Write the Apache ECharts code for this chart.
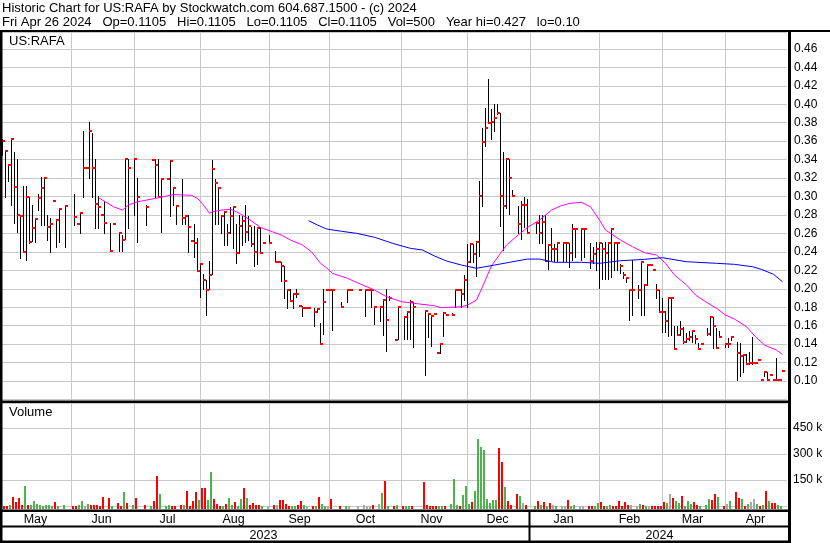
<!DOCTYPE html>
<html>
<head>
<meta charset="utf-8">
<script src="https://cdn.jsdelivr.net/npm/echarts/dist/echarts.min.js"></script>
<style>
html,body{margin:0;padding:0;background:#fff;}
#chart{width:830px;height:543px;}
</style>
</head>
<body>
<div id="chart"></div>
<script>
// ---------------- DATA ----------------
// one slot per weekday; slot index of each traded day
const barSlot = [
 0,1,2,3,4,5,6,7,8,9,
 10,11,12,13,14,15,16,17,18,19,
 21,24,25,26,27,28,29,30,31,32,
 33,34,36,37,39,40,41,42,44,45,
 48,50,51,52,53,55,56,57,58,60,
 61,62,63,64,65,66,67,68,69,70,
 71,72,73,74,75,76,77,78,79,80,
 81,82,83,84,85,86,87,89,91,92,
 93,94,95,96,97,98,99,100,101,102,
 104,105,106,107,108,109,110,113,115,116,
 119,121,122,123,124,126,127,128,129,131,
 132,134,135,136,137,141,142,143,144,145,
 146,147,148,150,151,152,153,154,155,156,
 157,158,159,160,161,162,163,164,165,166,
 167,168,169,170,172,173,174,175,178,179,
 180,181,182,183,184,185,187,188,189,190,
 191,193,194,196,197,198,199,200,201,202,
 203,204,205,206,207,208,209,210,212,213,
 214,215,216,217,218,219,220,221,222,223,
 224,225,226,227,228,229,230,231,232,233,
 235,236,237,238,239,241,242,243,245,246,
 247,248,249,250,251,252,253,254,255,256,
 257,258,259,260
];
const barHigh = [
 .362,.349,.3344,.362,.3485,.341,.28,.311,.311,.30,
 .291,.2756,.3025,.321,.319,.28,.277,.2948,.275,.2865,
 .29,.303,.27,.283,.371,.3305,.3805,.3686,.3405,.301,
 .2796,.295,.2713,.27,.2613,.2587,.3405,.3405,.3405,.32,
 .291,.34,.3405,.3405,.32,.319,.3393,.3094,.29,.3195,
 .28,.28,.252,.2697,.2546,.2265,.2157,.2096,.2301,.3393,
 .3195,.3094,.28,.2834,.2697,.2889,.2889,.2697,.28,.2787,
 .2906,.2787,.2672,.2679,.2672,.2672,.2499,.2582,.2409,.2294,
 .2294,.225,.1995,.1995,.194,.1995,.1818,.1818,.1796,.1796,
 .1796,.1796,.1634,.1998,.199,.199,.199,.1858,.1998,.199,
 .199,.1998,.199,.1998,.18,.18,.1883,.1998,.1919,.145,
 .18,.1703,.175,.1876,.1858,.1764,.1739,.1714,.1732,.1303,
 .1397,.1739,.1721,.1739,.1998,.199,.1998,.2153,.2488,.2488,
 .2488,.2503,.3169,.3746,.396,.4274,.3946,.40,.40,.3903,
 .3481,.3405,.3405,.3074,.2894,.295,.2996,.2978,.2708,.2798,
 .28,.2798,.2481,.2654,.2481,.2503,.2499,.2499,.2499,.27,
 .2647,.2647,.2647,.2499,.2456,.2506,.2506,.2499,.2506,.2492,
 .2654,.2499,.2499,.2266,.2186,.2114,.20,.2312,.2045,.2293,
 .2045,.2257,.2257,.2199,.2054,.1992,.1895,.1757,.1895,.1895,
 .1595,.1595,.1656,.1587,.1522,.154,.154,.1504,.1414,.1403,
 .1577,.1703,.1692,.1573,.154,.1414,.1468,.1479,.1425,.1407,
 .1298,.1298,.1312,.1479,.1193,.1226,.1009,.1099,.1099,.107,
 .1016,.1251,.1016,.1106
];
const barLow = [
 .345,.30,.317,.2905,.271,.261,.2335,.241,.231,.25,
 .2515,.251,.285,.2695,.2695,.253,.24,.2948,.245,.251,
 .245,.2695,.27,.26,.30,.3305,.32,.30,.266,.266,
 .2796,.2605,.2407,.27,.2407,.2407,.2544,.266,.28,.2505,
 .2695,.34,.30,.30,.2613,.319,.2787,.2903,.2705,.2697,
 .2697,.24,.252,.2348,.2196,.1908,.1995,.1714,.1995,.2157,
 .2697,.2697,.26,.2474,.2474,.26,.2438,.2276,.2391,.2474,
 .251,.2528,.2463,.225,.2265,.2384,.2499,.2499,.2294,.2294,
 .2088,.19,.1796,.1868,.1796,.1908,.1818,.171,.1796,.1796,
 .16,.1753,.14,.1505,.199,.199,.155,.18,.1858,.199,
 .199,.1703,.199,.18,.1613,.1649,.1497,.1324,.1876,.145,
 .1457,.1457,.1457,.1457,.1371,.1067,.148,.1379,.1732,.1303,
 .1306,.1487,.1721,.1721,.18,.199,.18,.1883,.18,.2286,
 .2286,.2135,.236,.29,.355,.3802,.3622,.3705,.3895,.2678,
 .2425,.2876,.2814,.3002,.26,.254,.2672,.2607,.26,.2499,
 .25,.2312,.2211,.2312,.2301,.2301,.2301,.2301,.2232,.2312,
 .2348,.2312,.2348,.2222,.2276,.2204,.2005,.2103,.2103,.2103,
 .2124,.2204,.2204,.2175,.2114,.2078,.1663,.1717,.1902,.1714,
 .1714,.2039,.2257,.2199,.1899,.1747,.153,.153,.1493,.1504,
 .1349,.1497,.1504,.1414,.1421,.145,.1421,.1407,.1349,.1403,
 .1504,.1504,.136,.136,.1475,.1367,.1367,.1443,.1009,.1052,
 .1099,.1186,.1186,.1186,.1193,.1226,.1009,.1052,.1009,.107,
 .1016,.1009,.1016,.1106
];
const barClose = [
 .36,.349,.334,.362,.31,.28,.279,.24,.30,.2505,
 .2656,.2753,.298,.309,.3196,.2667,.27,.2948,.275,.286,
 .29,.2775,.27,.2826,.3305,.3305,.3705,.3305,.2915,.289,
 .2796,.2713,.2407,.27,.26,.2526,.3405,.3305,.3405,.30,
 .289,.34,.3344,.30,.3193,.319,.3386,.3094,.29,.277,
 .2791,.2672,.252,.2499,.2196,.2265,.2099,.1987,.215,.33,
 .3148,.3094,.2787,.2834,.2607,.2787,.2889,.2391,.2679,.2737,
 .2618,.2679,.2488,.2398,.2661,.2391,.2499,.2499,.2294,.2294,
 .225,.2085,.1991,.1868,.194,.1948,.1818,.1796,.1796,.1796,
 .1753,.1778,.14,.1854,.199,.199,.1984,.18,.199,.199,
 .199,.199,.199,.199,.18,.18,.1876,.1667,.1897,.145,
 .18,.1692,.1746,.1858,.18,.1757,.1732,.171,.1732,.1303,
 .1397,.1739,.1721,.1721,.199,.199,.1948,.21,.2286,.2481,
 .2376,.2503,.3007,.3595,.3744,.3802,.3809,.3856,.3903,.3002,
 .29,.3405,.3196,.3002,.27,.2905,.2905,.2607,.2708,.2607,
 .272,.2305,.2474,.2431,.2431,.2499,.2499,.2499,.2391,.2647,
 .2647,.2647,.2647,.2305,.2377,.2427,.2499,.2427,.2391,.2499,
 .2647,.2499,.2499,.2247,.215,.2114,.1987,.1987,.1992,.2289,
 .2039,.2257,.2257,.2199,.1992,.1747,.1747,.1649,.1895,.1895,
 .1349,.150,.1569,.1421,.1461,.1479,.154,.1461,.1349,.1403,
 .1511,.1692,.1595,.136,.1475,.1403,.1403,.1479,.1305,.1269,
 .128,.1186,.1193,.1193,.1193,.1226,.1009,.1099,.1016,.107,
 .1016,.1009,.1016,.1106
];
const volume = [
 800,800,800,5800,52300,25200,48400,3000,116100,5800,
 3900,29000,13500,7700,2000,3000,7700,800,25200,2000,
 5800,800,800,7700,29000,800,13500,3900,3500,3000,
 2000,54200,48400,1200,19400,2000,81300,19400,3000,48400,
 3000,800,31000,174200,71600,800,5800,2000,2000,7700,
 7700,89000,800,31000,83200,36800,106500,106500,36800,193500,
 42600,13500,800,800,13500,48400,3000,25200,2000,42600,
 106500,48400,7700,17400,3000,3000,800,500,5800,5800,
 36800,36800,13500,2000,1200,2000,3000,31000,3000,800,
 2000,800,54200,13500,800,800,38700,2000,1500,800,
 800,3500,800,2000,3000,13500,77400,141300,800,800,
 3500,800,1500,2000,2000,139400,3000,800,800,800,
 2000,2000,800,11600,156800,7700,800,63900,116100,11600,
 25200,89000,389000,342600,321300,40600,19400,36800,36800,336800,
 251600,110300,31000,3000,69700,58100,15500,3000,2000,31000,
 3000,25200,2000,19400,5800,800,800,2000,34800,2000,
 3000,800,2000,2000,2000,2000,15500,25200,1200,2000,
 3500,800,2000,31000,1200,25200,5800,5800,800,11600,
 3500,800,800,800,800,800,800,25200,15500,67700,
 48400,31000,17400,58100,1200,29000,9700,23200,3000,800,
 3000,40600,34800,67700,52300,2000,9700,29000,81300,46500,
 40600,800,9700,23200,40600,9700,800,3000,87100,29000,
 15500,15500,3000,500
];
// r = down (red), g = up (green), n = unchanged (grey)
const volDir = [
 'rrrgrrrrgr','ggggggggrg','grrggngrrr','rrrgrrgrgr','rgrrgggrrr',
 'grrrrgrrgg','rrrgrggrgg','rgrrrrgnrn','rrrrggrrgn','rgrggnrrgn',
 'nnnnrngrgr','grggrrrrrr','ggrgggrggg','rggggggggr','rgrrrgnrgr',
 'grgrngnnrg','gnnrrggrrg','grrrrrrnng','rgnrrrrrgn','rggrgggrrg',
 'ggrrgrngrr','grgnngrgrg','rrgg'
].join('');

// moving averages, sampled along the drawn lines (slot, value)
const maShortSlot = [32,37,40,42,45,51,57,63,65,67,69,70,73,76,79,83,86,90,93,96,100,103,106,108,110,115,120,124,128,133,139,144,146,153,155,158,160,163,166,168,171,175,179,183,186,189,193,196,199,201,206,210,214,218,221,224,228,231,234,238,241,244,248,251,254,258,260];
const maShortVal = [.2987,.2889,.2853,.2908,.2943,.298,.3021,.3013,.298,.2908,.2818,.2835,.2853,.2861,.2818,.2735,.2664,.2618,.2582,.2528,.2474,.2401,.2276,.2228,.2167,.2113,.2041,.1986,.1914,.186,.1835,.1816,.1795,.1805,.1824,.1878,.2022,.225,.2384,.2474,.2558,.2665,.2745,.2853,.2897,.2926,.2937,.2889,.2745,.2637,.2528,.2456,.2391,.2366,.2276,.2149,.2041,.1932,.1867,.1788,.1715,.1672,.1589,.148,.139,.1336,.1289];
const maLongSlot = [102,105,108,113,118,124,130,136,140,144,148,153,158,164,169,175,179,184,193,199,206,214,220,228,238,244,250,253,257,260];
const maLongVal = [.2738,.2691,.2648,.2623,.2601,.2558,.2493,.2438,.242,.2355,.2301,.2257,.2222,.2257,.2287,.2322,.2322,.2287,.2287,.2276,.2304,.2319,.2337,.2293,.2276,.2265,.2239,.221,.2157,.2076];

// axis / tick labels
const slotCount = 262;
const monthStartSlot = [23,44,66,89,109,133,155,176,199,220,241];
const monthLabelSlot = [11,33,55,77,99,121,143,165,187,209,230,251];
const monthNames = ['May','Jun','Jul','Aug','Sep','Oct','Nov','Dec','Jan','Feb','Mar','Apr'];
const yearLabelSlot = [87,219];
const yearNames = ['2023','2024'];
const headerLine1 = 'Historic Chart for US:RAFA by Stockwatch.com 604.687.1500 - (c) 2024';
const headerLine2 = 'Fri Apr 26 2024   Op=0.1105   Hi=0.1105   Lo=0.1105   Cl=0.1105   Vol=500   Year hi=0.427   lo=0.10';

// ---------------- CHART ----------------
const FONT = "'Liberation Sans', Arial, sans-serif";
const categories = [];
for (let i = 0; i < slotCount; i++) categories.push(String(i));

const barData = barSlot.map((k, i) => [k, barHigh[i], barLow[i], barClose[i]]);
const dirCode = {r: 0, g: 1, n: 2};
const volColors = ['#ff0000', '#4db34d', '#a8a8a8'];
const volData = barSlot.map((k, i) => [k, volume[i], dirCode[volDir[i]]]);
const gridLineData = monthStartSlot.map(k => [k, 0]);

function renderBar(params, api) {
  const k = api.value(0);
  const pH = api.coord([k, api.value(1)]);
  const pL = api.coord([k, api.value(2)]);
  const pC = api.coord([k, api.value(3)]);
  const x = Math.floor(pH[0]);
  const y1 = Math.round(pH[1]), y2 = Math.round(pL[1]), yc = Math.round(pC[1]);
  const ch = [];
  if (y2 > y1) ch.push({type: 'rect', shape: {x: x, y: y1, width: 1, height: y2 - y1 + 1}, style: {fill: '#000'}});
  ch.push({type: 'rect', shape: {x: x, y: yc - 1, width: 3, height: 2}, style: {fill: '#ff0000'}});
  return {type: 'group', children: ch};
}
function renderVol(params, api) {
  const k = api.value(0);
  const p = api.coord([k, api.value(1)]);
  const b = api.coord([k, 0]);
  const x = Math.floor(p[0]) - 2;
  const yt = Math.round(p[1]);
  const yb = Math.round(b[1]) + 3;
  return {type: 'rect', shape: {x: x, y: yt, width: 2, height: yb - yt}, style: {fill: volColors[api.value(2)]}};
}
function renderGridLine(params, api) {
  const k = api.value(0);
  const p = api.coord([k, api.value(1)]);
  const cs = params.coordSys;
  return {type: 'rect', shape: {x: Math.floor(p[0]), y: cs.y, width: 1, height: cs.height + 2}, style: {fill: '#c8c8c8'}};
}

const txt = (s, l, t) => ({text: s, left: l, top: t, padding: 0,
  textStyle: {fontSize: 13, fontWeight: 'normal', color: '#000', fontFamily: FONT}});

const blk = (x, y, w, h) => ({type: 'rect', shape: {x: x, y: y, width: w, height: h}, style: {fill: '#000'}, z: 100, silent: true});

const option = {
  animation: false,
  backgroundColor: '#fff',
  textStyle: {fontFamily: FONT},
  title: [
    txt(headerLine1, 2, 2),
    txt(headerLine2, 2, 16),
    txt('US:RAFA', 9, 35),
    txt('Volume', 9, 406)
  ],
  grid: [
    {left: 1, width: 786, top: 32, height: 367.5, containLabel: false, outerBoundsMode: 'none'},
    {left: 1, width: 786, top: 403, height: 103, containLabel: false, outerBoundsMode: 'none'}
  ],
  xAxis: [
    {type: 'category', gridIndex: 0, data: categories, boundaryGap: true, show: false},
    {type: 'category', gridIndex: 1, data: categories, boundaryGap: true, position: 'bottom',
     axisLine: {show: false}, axisTick: {show: false}, splitLine: {show: false},
     axisLabel: {interval: (i) => monthLabelSlot.indexOf(i) >= 0,
                 formatter: (v, i) => monthNames[monthLabelSlot.indexOf(Number(v))] || '',
                 margin: 7, fontSize: 12.5, color: '#000', fontFamily: FONT}},
    {type: 'category', gridIndex: 1, data: categories, boundaryGap: true, position: 'bottom', offset: 16,
     axisLine: {show: false}, axisTick: {show: false}, splitLine: {show: false},
     axisLabel: {interval: (i) => yearLabelSlot.indexOf(i) >= 0,
                 formatter: (v, i) => yearNames[yearLabelSlot.indexOf(Number(v))] || '',
                 margin: 7, fontSize: 12.5, color: '#000', fontFamily: FONT}}
  ],
  yAxis: [
    {type: 'value', gridIndex: 0, position: 'right', min: 0.08, max: 0.4783, interval: 0.02,
     axisLine: {show: false}, axisTick: {show: false},
     splitLine: {show: true, lineStyle: {color: '#c8c8c8', width: 1}},
     axisLabel: {show: true, margin: 7, fontSize: 12, color: '#000', fontFamily: FONT,
                 showMinLabel: false, showMaxLabel: false,
                 formatter: (v) => v.toFixed(2)}},
    {type: 'value', gridIndex: 1, position: 'right', min: 0, max: 594000, interval: 150000,
     axisLine: {show: false}, axisTick: {show: false},
     splitLine: {show: true, lineStyle: {color: '#c8c8c8', width: 1}},
     axisLabel: {show: true, margin: 6, fontSize: 12, color: '#000', fontFamily: FONT,
                 showMinLabel: false, showMaxLabel: false,
                 formatter: (v) => (v / 1000) + ' k'}}
  ],
  series: [
    {type: 'custom', name: 'priceGrid', xAxisIndex: 0, yAxisIndex: 0, z: 1, silent: true,
     renderItem: renderGridLine, data: gridLineData, clip: false},
    {type: 'custom', name: 'volGrid', xAxisIndex: 1, yAxisIndex: 1, z: 1, silent: true,
     renderItem: renderGridLine, data: gridLineData, clip: false},
    {type: 'custom', name: 'price', xAxisIndex: 0, yAxisIndex: 0, z: 3, silent: true,
     renderItem: renderBar, data: barData, encode: {x: 0, y: [1, 2, 3]}, clip: false},
    {type: 'custom', name: 'volume', xAxisIndex: 1, yAxisIndex: 1, z: 3, silent: true,
     renderItem: renderVol, data: volData, encode: {x: 0, y: 1}, clip: false},
    {type: 'line', name: 'MA short', xAxisIndex: 0, yAxisIndex: 0, z: 4, silent: true,
     data: maShortSlot.map((k, i) => [k, maShortVal[i]]), symbol: 'none', smooth: false,
     lineStyle: {color: '#ff00ff', width: 1}},
    {type: 'line', name: 'MA long', xAxisIndex: 0, yAxisIndex: 0, z: 4, silent: true,
     data: maLongSlot.map((k, i) => [k, maLongVal[i]]), symbol: 'none', smooth: false,
     lineStyle: {color: '#0000ff', width: 1}}
  ],
  graphic: [
    blk(0, 30, 830, 2),      // header rule / top frame
    blk(0, 30, 2.5, 513),    // left frame
    blk(788, 30, 3, 513),    // right axis line
    blk(0, 400.5, 791, 2.5), // price / volume divider
    blk(0, 509.5, 791, 2.5), // time axis line
    blk(0, 525.5, 791, 2),   // month / year divider
    blk(0, 540.5, 791, 2.5), // bottom frame
    blk(528.5, 511, 2, 31)   // year divider
  ]
};

const chart = echarts.init(document.getElementById('chart'), null, {renderer: 'canvas'});
chart.setOption(option);
</script>
</body>
</html>
